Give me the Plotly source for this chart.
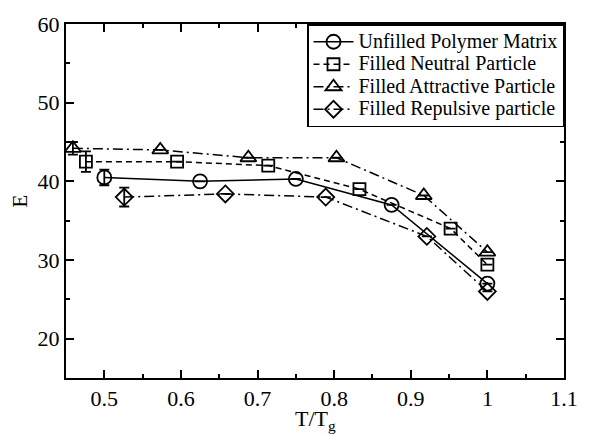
import plotly.graph_objects as go

# Data
unf_x = [0.5, 0.625, 0.75, 0.875, 1.0]
unf_y = [40.5, 40.0, 40.3, 37.0, 27.0]
unf_err = [1.0, None, None, None, None]

neu_x = [0.476, 0.595, 0.714, 0.833, 0.952, 1.0]
neu_y = [42.5, 42.5, 42.0, 39.0, 34.0, 29.4]
neu_err = [1.3, None, None, None, None, None]

att_x = [0.459, 0.573, 0.688, 0.803, 0.917, 1.0]
att_y = [44.2, 44.0, 43.0, 43.0, 38.2, 31.0]
att_err = [0.8, None, None, None, None, None]

rep_x = [0.526, 0.658, 0.789, 0.921, 1.0]
rep_y = [38.0, 38.4, 38.0, 33.0, 26.0]
rep_err = [1.2, None, None, None, None]

names = ["Unfilled Polymer Matrix", "Filled Neutral Particle",
         "Filled Attractive Particle", "Filled Repulsive particle"]

FONT = "Liberation Serif"

series = [
    (unf_x, unf_y, unf_err, "circle-open", 14, "solid"),
    (neu_x, neu_y, neu_err, "square-open", 12, "6px,4px"),
    (att_x, att_y, att_err, "triangle-up-open", 14, "10px,4px,2px,4px"),
    (rep_x, rep_y, rep_err, "diamond-open", 13, "10px,4px,2px,4px"),
]

fig = go.Figure()
for (xs, ys, es, sym, sz, dash), nm in zip(series, names):
    fig.add_trace(go.Scatter(
        x=xs, y=ys, name='<span style="font-size:20px">%s</span>' % nm,
        mode="lines+markers",
        line=dict(color="black", width=1.5, dash=dash),
        marker=dict(symbol=sym, size=sz, color="black",
                    line=dict(color="black", width=1.8)),
        error_y=dict(type="data", array=es, visible=True,
                     color="black", thickness=1.8, width=5),
    ))

axis_common = dict(
    showline=True, linecolor="black", linewidth=2, mirror="ticks",
    ticks="inside", ticklen=8, tickwidth=1.5, tickcolor="black",
    showgrid=False, zeroline=False,
    tickfont=dict(family=FONT, size=22, color="black"),
)

fig.update_xaxes(
    range=[0.45, 1.1], tickvals=[0.5, 0.6, 0.7, 0.8, 0.9, 1.0, 1.1],
    ticktext=["0.5", "0.6", "0.7", "0.8", "0.9", "1", "1.1"],
    minor=dict(ticks="inside", ticklen=4, tickwidth=1.5, dtick=0.05,
               tick0=0.45, tickcolor="black"),
    **axis_common,
)
fig.update_yaxes(
    range=[15, 60], tickvals=[20, 30, 40, 50, 60],
    minor=dict(ticks="inside", ticklen=4, tickwidth=1.5, dtick=5,
               tick0=15, tickcolor="black"),
    title=dict(text="E", font=dict(family=FONT, size=21, color="black"),
               standoff=4),
    **axis_common,
)

fig.add_annotation(
    text="T/T<sub>g</sub>", xref="paper", yref="paper", x=0.5, y=-0.118,
    xanchor="center", yanchor="middle", showarrow=False,
    font=dict(family=FONT, size=22, color="black"),
)

fig.update_layout(
    width=590, height=435,
    margin=dict(l=66, r=15, t=22, b=57),
    plot_bgcolor="white", paper_bgcolor="white",
    font=dict(family=FONT, color="black"),
    legend=dict(
        x=1, y=1, xanchor="right", yanchor="top",
        bgcolor="white", bordercolor="black", borderwidth=1.5,
        font=dict(family=FONT, size=15, color="black"),
        itemwidth=40, tracegroupgap=0,
    ),
    showlegend=True,
)

fig.write_html("out.html")
